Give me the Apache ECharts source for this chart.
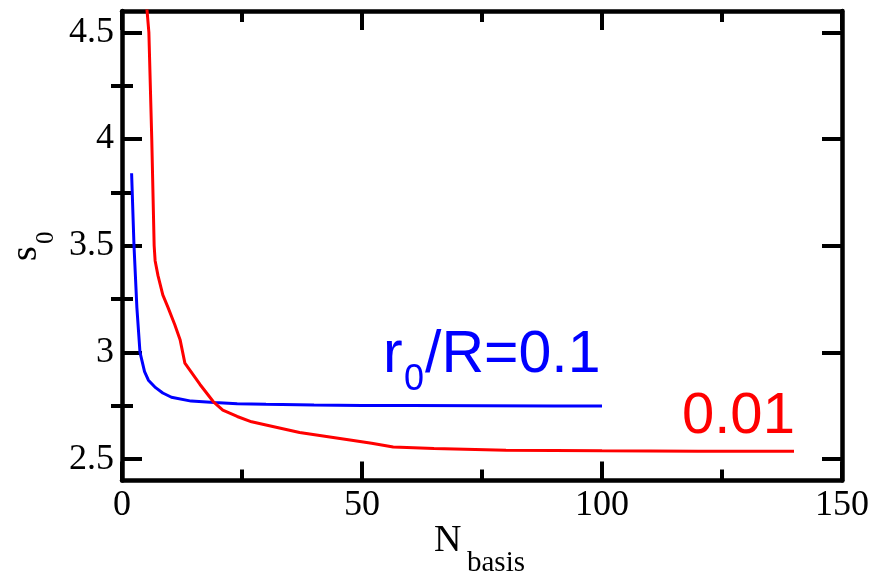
<!DOCTYPE html>
<html>
<head>
<meta charset="utf-8">
<script src="https://cdn.jsdelivr.net/npm/echarts@6/dist/echarts.min.js"></script>
<style>html,body{margin:0;padding:0;background:#fff;}#c{width:880px;height:576px;}</style>
</head>
<body>
<div id="c"></div>
<script>
// r0/R = 0.1 (blue)
var blueN = [2, 2.5, 3.1, 3.75, 4.7, 5.5, 7, 8.5, 10.3, 14.4, 19.3, 24, 30, 40, 50, 60, 75, 90, 100];
var blueS = [3.84, 3.5, 3.21, 3.0, 2.91, 2.87, 2.835, 2.81, 2.79, 2.772, 2.765, 2.76, 2.757, 2.754, 2.752, 2.751, 2.75, 2.749, 2.749];
// r0/R = 0.01 (red)
var redN = [5.0, 5.6, 6.2, 6.7, 6.9, 7.5, 8.5, 9.6, 11, 12.1, 13.1, 16.25, 19, 21, 24, 27, 30, 37, 47.5, 52, 56.5, 65, 80, 100, 120, 140];
var redS = [4.66, 4.5, 4.0, 3.5, 3.43, 3.36, 3.27, 3.21, 3.13, 3.06, 2.95, 2.85, 2.77, 2.73, 2.70, 2.675, 2.66, 2.625, 2.59, 2.575, 2.557, 2.55, 2.542, 2.539, 2.537, 2.537];
var xTicks = [0, 50, 100, 150];
var yMajor = [2.5, 3, 3.5, 4, 4.5];
var yMinor = [2.75, 3.25, 3.75, 4.25];

function pairs(a, b) { return a.map(function (v, i) { return [v, b[i]]; }); }

var chart = echarts.init(document.getElementById('c'), null, {renderer: 'canvas'});
var serif = '"Liberation Serif", "DejaVu Serif", serif';
var sans = '"Liberation Sans", Arial, sans-serif';
var axLine = {show: true, onZero: false, lineStyle: {color: '#000', width: 4.5}};

var xBase = {
  type: 'value', min: xTicks[0], max: xTicks[xTicks.length - 1], interval: 50,
  axisLine: axLine, splitLine: {show: false},
  axisTick: {show: true, inside: true, length: 19, lineStyle: {color: '#000', width: 4}},
  minorTick: {show: true, splitNumber: 2, length: 11, lineStyle: {color: '#000', width: 4}}
};
function yAx(pos, ticks, len, showLine, labels) {
  return {
    type: 'value', position: pos, min: 2.4, max: 4.6,
    axisLine: showLine ? axLine : {show: false},
    splitLine: {show: false},
    axisTick: {show: true, inside: true, length: len, customValues: ticks, lineStyle: {color: '#000', width: 4}},
    axisLabel: labels ? {show: true, customValues: ticks, color: '#000', fontFamily: serif, fontSize: 36, margin: 8} : {show: false}
  };
}

chart.setOption({
  animation: false,
  backgroundColor: '#fff',
  grid: {left: 122, right: 38, top: 11, bottom: 95.5, containLabel: false},
  xAxis: [
    Object.assign({}, xBase, {position: 'bottom', axisLabel: {show: true, color: '#000', fontFamily: serif, fontSize: 36, margin: 7}}),
    Object.assign({}, xBase, {position: 'top', axisLabel: {show: false}})
  ],
  yAxis: [
    yAx('left', yMajor, 20, true, true),
    yAx('right', yMajor, 20, true, false),
    yAx('left', yMinor, 11, false, false),
    yAx('right', yMinor, 11, false, false)
  ],
  series: [
    {type: 'line', xAxisIndex: 0, yAxisIndex: 0, data: pairs(blueN, blueS), showSymbol: false, symbol: 'none',
     lineStyle: {color: '#0000ff', width: 3}, clip: true},
    {type: 'line', xAxisIndex: 0, yAxisIndex: 0, data: pairs(redN, redS), showSymbol: false, symbol: 'none',
     lineStyle: {color: '#ff0000', width: 3}, clip: true}
  ],
  graphic: [
    {type: 'text', x: 383, y: 356, style: {text: 'r', font: '59px ' + sans, fill: '#0000ff', textAlign: 'left', textVerticalAlign: 'middle'}},
    {type: 'text', x: 404, y: 380, style: {text: '0', font: '36px ' + sans, fill: '#0000ff', textAlign: 'left', textVerticalAlign: 'middle'}},
    {type: 'text', x: 425, y: 356, style: {text: '/R=0.1', font: '59px ' + sans, fill: '#0000ff', textAlign: 'left', textVerticalAlign: 'middle'}},
    {type: 'text', x: 682, y: 417, style: {text: '0.01', font: '58px ' + sans, fill: '#ff0000', textAlign: 'left', textVerticalAlign: 'middle'}},
    {type: 'text', x: 434, y: 541, style: {text: 'N', font: '38px ' + serif, fill: '#000', textAlign: 'left', textVerticalAlign: 'middle'}},
    {type: 'text', x: 467, y: 563, style: {text: 'basis', font: '29px ' + serif, fill: '#000', textAlign: 'left', textVerticalAlign: 'middle'}},
    {type: 'group', x: 37, y: 261, rotation: Math.PI / 2, children: [
      {type: 'text', x: 0, y: -11, style: {text: 's', font: '38px ' + serif, fill: '#000', textAlign: 'left', textVerticalAlign: 'middle'}},
      {type: 'text', x: 17, y: 9, style: {text: '0', font: '25px ' + serif, fill: '#000', textAlign: 'left', textVerticalAlign: 'middle'}}
    ]}
  ]
});
</script>
</body>
</html>
